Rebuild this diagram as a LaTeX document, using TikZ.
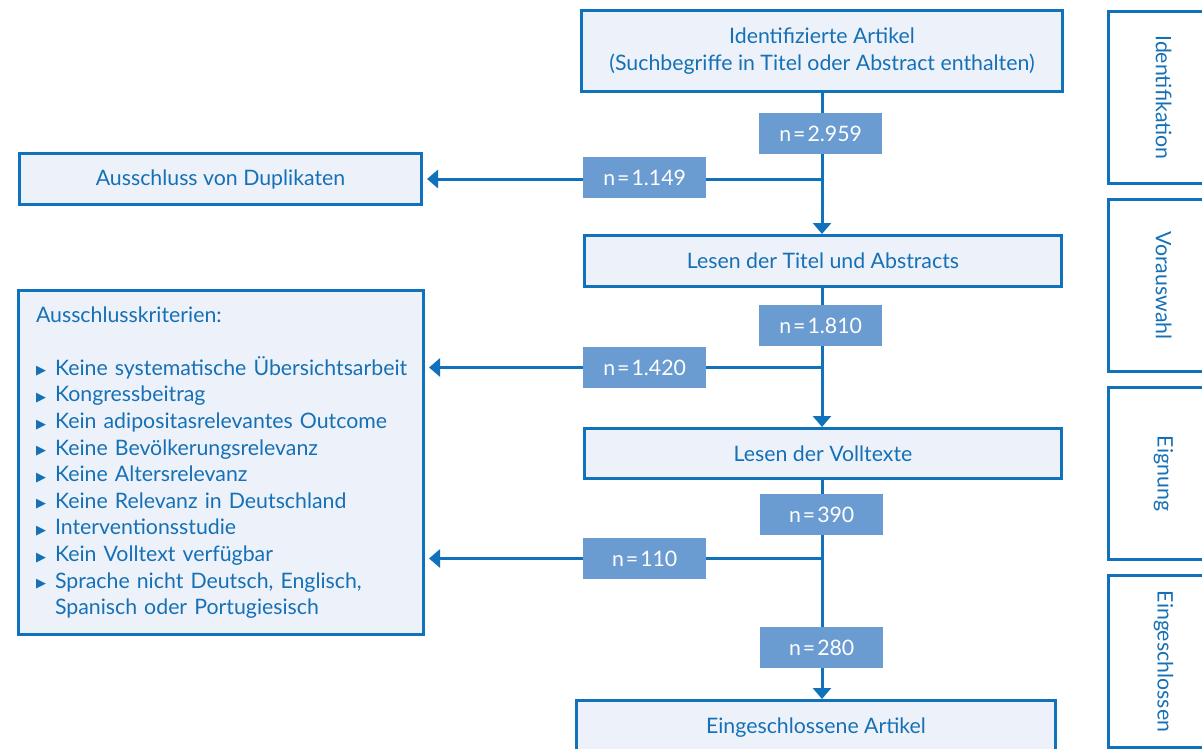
\documentclass[tikz,border=0pt]{standalone}
\usepackage{fontspec}
\setmainfont{Lato}
\newfontfamily\djf{DejaVu Sans}
\usetikzlibrary{arrows.meta}
\definecolor{bdr}{RGB}{16,114,186}
\definecolor{boxfill}{RGB}{237,242,250}
\definecolor{nfill}{RGB}{106,155,209}
\definecolor{txt}{RGB}{22,112,182}
\newcommand\bul{\makebox[19pt][l]{\raisebox{0.5pt}{\djf\fontsize{13}{13}\selectfont ▶}}}
\newcommand\eqq{\kern2pt=\kern2pt}
\begin{document}
\begin{tikzpicture}[x=1pt,y=-1pt,
  mainbox/.style={draw=bdr, fill=boxfill, line width=3pt, text=txt, anchor=north west, inner sep=0pt, align=center, font=\fontsize{21.3}{27}\selectfont},
  nbox/.style={fill=nfill, text=white, anchor=north west, inner sep=0pt, minimum width=123pt, minimum height=41pt, font=\fontsize{21.3}{26}\selectfont},
  sidebox/.style={draw=bdr, line width=3pt, anchor=north west, minimum width=110pt, minimum height=172pt, inner sep=0pt},
  sidetext/.style={text=txt, rotate=-90, font=\fontsize{21.3}{26}\selectfont},
  conn/.style={draw=bdr, line width=3pt},
  arr/.style={conn, -{Triangle[width=18pt,length=11pt]}}
]
\useasboundingbox (0,0) rectangle (1202,749);
\clip (0,0) rectangle (1202,749);
% main boxes
\node[mainbox, minimum width=481pt, minimum height=81pt] (top) at (580,9) {Identifizierte Artikel\\(Suchbegriffe in Titel oder Abstract enthalten)};
\node[mainbox, minimum width=402pt, minimum height=51pt] (dup) at (18,152) {Ausschluss von Duplikaten};
\node[mainbox, minimum width=477pt, minimum height=51pt] (titel) at (583,234) {Lesen der Titel und Abstracts};
\node[mainbox, minimum width=477pt, minimum height=50pt] (voll) at (583,427) {Lesen der Volltexte};
\node[mainbox, minimum width=479pt, minimum height=54pt] (eing) at (575,699) {Eingeschlossene Artikel};
\node[mainbox, align=left, text width=370pt, inner xsep=17.5pt, minimum height=344pt, font=\fontsize{21.3}{26.6}\selectfont] (crit) at (17,289) {Ausschlusskriterien:\\[26.6pt]
\mbox{\bul Keine systematische Übersichtsarbeit}\\
\bul Kongressbeitrag\\
\bul Kein adipositasrelevantes Outcome\\
\bul Keine Bevölkerungsrelevanz\\
\bul Keine Altersrelevanz\\
\bul Keine Relevanz in Deutschland\\
\bul Interventionsstudie\\
\bul Kein Volltext verfügbar\\
\bul Sprache nicht Deutsch, Englisch,\\
\hspace*{19pt}Spanisch oder Portugiesisch};
% side boxes
\node[sidebox] (s1) at (1107,10) {};
\node[sidebox] (s2) at (1107,198) {};
\node[sidebox] (s3) at (1107,386) {};
\node[sidebox] (s4) at (1107,574) {};
\node[sidetext] (t1) at (s1.center) {Identifikation};
\node[sidetext] (t2) at (s2.center) {Vorauswahl};
\node[sidetext] (t3) at (s3.center) {Eignung};
\node[sidetext] (t4) at (s4.center) {Eingeschlossen};
% n boxes (positions)
\coordinate (pA) at (759,113);
\coordinate (pB) at (583,157);
\coordinate (pC) at (759,305);
\coordinate (pD) at (583,347);
\coordinate (pE) at (760,494);
\coordinate (pF) at (583,538);
\coordinate (pG) at (760,627);
% connectors
\draw[arr] (top.south) -- (top.south |- titel.north);
\draw[arr] (top.south |- titel.south) -- (top.south |- voll.north);
\draw[arr] (top.south |- voll.south) -- (top.south |- eing.north);
\draw[arr, shorten >=4pt] (top.south |- dup.east) -- (dup.east);
\path (pD) ++(61.5,20.5) coordinate (cD);
\path (pF) ++(61.5,20.5) coordinate (cF);
\draw[arr, shorten >=4pt] (top.south |- cD) -- (crit.east |- cD);
\draw[arr, shorten >=4pt] (top.south |- cF) -- (crit.east |- cF);
% n boxes
\node[nbox] (nA) at (pA) {n\eqq 2.959};
\node[nbox] (nB) at (pB) {n\eqq 1.149};
\node[nbox] (nC) at (pC) {n\eqq 1.810};
\node[nbox] (nD) at (pD) {n\eqq 1.420};
\node[nbox] (nE) at (pE) {n\eqq 390};
\node[nbox] (nF) at (pF) {n\eqq 110};
\node[nbox] (nG) at (pG) {n\eqq 280};
\end{tikzpicture}
\end{document}
